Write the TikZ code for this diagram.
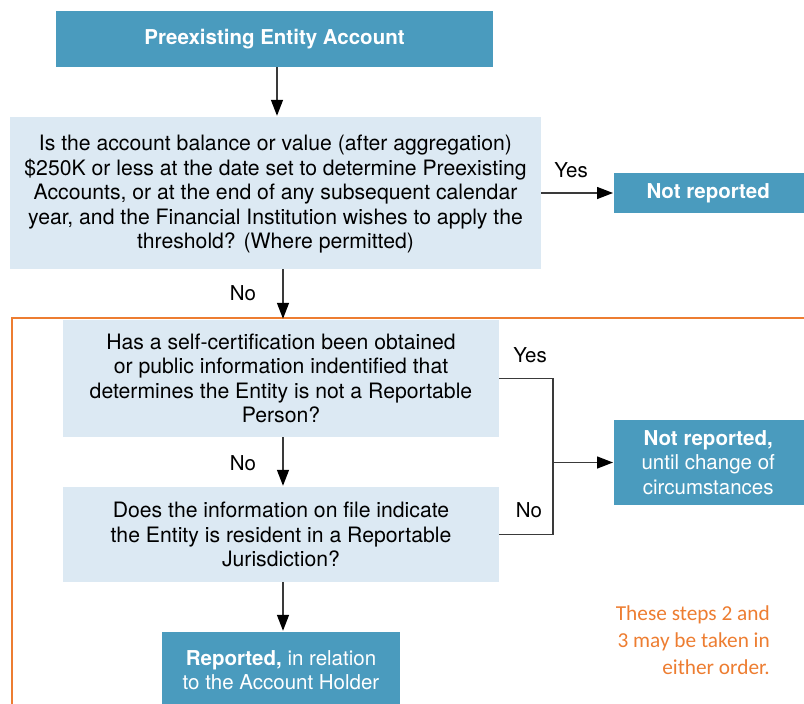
\documentclass[tikz,border=0pt]{standalone}
\usepackage{fontspec}
\setmainfont{TeX Gyre Heros}
\newfontfamily\notefont{Carlito}
\usetikzlibrary{arrows.meta}

\definecolor{boxdark}{HTML}{4A9BBE}
\definecolor{boxlight}{HTML}{DCE9F3}
\definecolor{noteorange}{HTML}{ED7D31}
\definecolor{linegray}{HTML}{3A3A3A}

\tikzset{
  box/.style={rectangle, inner sep=0pt, align=center, font=\fontsize{21.2}{24.5}\selectfont},
  darkbox/.style={box, fill=boxdark, text=white},
  lightbox/.style={box, fill=boxlight, text=black},
  arr/.style={draw=linegray, line width=1.4pt,
    -{Triangle[length=16pt,width=12pt,fill=black,color=black]}, shorten >=1pt},
  link/.style={draw=linegray, line width=1.4pt},
  lbl/.style={font=\fontsize{20.5}{24}\selectfont, inner sep=0pt},
}

\begin{document}
\begin{tikzpicture}[x=1pt,y=-1pt]
  \useasboundingbox (0,0) rectangle (804,704);
  \clip (0,0) rectangle (804,704);

  % grouped steps 2 and 3
  \draw[noteorange, line width=2pt] (12,318) rectangle (830,730);

  % nodes
  \node[darkbox, minimum width=437pt, minimum height=56pt, font=\fontsize{20.5}{24.5}\selectfont] (start) at (274.5,39)
    {\textbf{Preexisting Entity Account}};
  \node[lightbox, minimum width=531pt, minimum height=152pt] (q1) at (275.5,193)
    {\rule{0pt}{18pt}Is the account balance or value (after aggregation)\\
     \$250K or less at the date set to determine Preexisting\\
     Accounts, or at the end of any subsequent calendar\\
     year, and the Financial Institution wishes to apply the\\
     threshold? (Where permitted)};
  \node[darkbox, minimum width=200pt, minimum height=40pt, anchor=west, font=\fontsize{20.5}{24.5}\selectfont] (nr1) at (614,193)
    {\hspace*{-12pt}\textbf{Not reported}};
  \node[lightbox, minimum width=436pt, minimum height=117pt] (q2) at (281,378.5)
    {Has a self-certification been obtained\\
     or public information indentified that\\
     determines the Entity is not a Reportable\\
     Person?};
  \node[darkbox, minimum width=200pt, minimum height=85pt, anchor=west, font=\fontsize{20.5}{24.5}\selectfont] (nr2) at (614,462.5)
    {\hspace*{-12pt}\textbf{Not reported,}\\\hspace*{-12pt}until change of\\\hspace*{-12pt}circumstances};
  \node[lightbox, minimum width=436pt, minimum height=95pt] (q3) at (281,534.5)
    {Does the information on file indicate\\
     the Entity is resident in a Reportable\\
     Jurisdiction?};
  \node[darkbox, minimum width=238pt, minimum height=76pt, font=\fontsize{20.5}{24.5}\selectfont] (rep) at (281,670)
    {\textbf{Reported,} in relation\\to the Account Holder};

  \node[font=\notefont\fontsize{21.3}{27}\selectfont, text=noteorange, align=right,
        anchor=east, inner sep=0pt] (note) at (770,640)
    {These steps 2 and\\3 may be taken in\\either order.};

  % connectors
  \draw[arr] (start.south -| 277,0) -- (q1.north -| 277,0);
  \draw[arr] (q1.east) -- (nr1.west);
  \draw[arr] (q1.south -| 283,0) -- (q2.north -| 283,0);
  \draw[arr] (q2.south -| 283,0) -- (q3.north -| 283,0);
  \draw[arr] (q3.south -| 283,0) -- (rep.north -| 283,0);

  \coordinate (bus) at (553,462.5);
  \draw[link] (q2.east) -| (bus) |- (q3.east);
  \draw[arr] (bus) -- (nr2.west);

  % branch labels
  \node[lbl] (yes1) at (571,170) {Yes};
  \node[lbl] (no1) at (243,293) {No};
  \node[lbl] (yes2) at (530,355) {Yes};
  \node[lbl] (no2) at (243,463) {No};
  \node[lbl] (no3) at (529,510) {No};
\end{tikzpicture}
\end{document}
